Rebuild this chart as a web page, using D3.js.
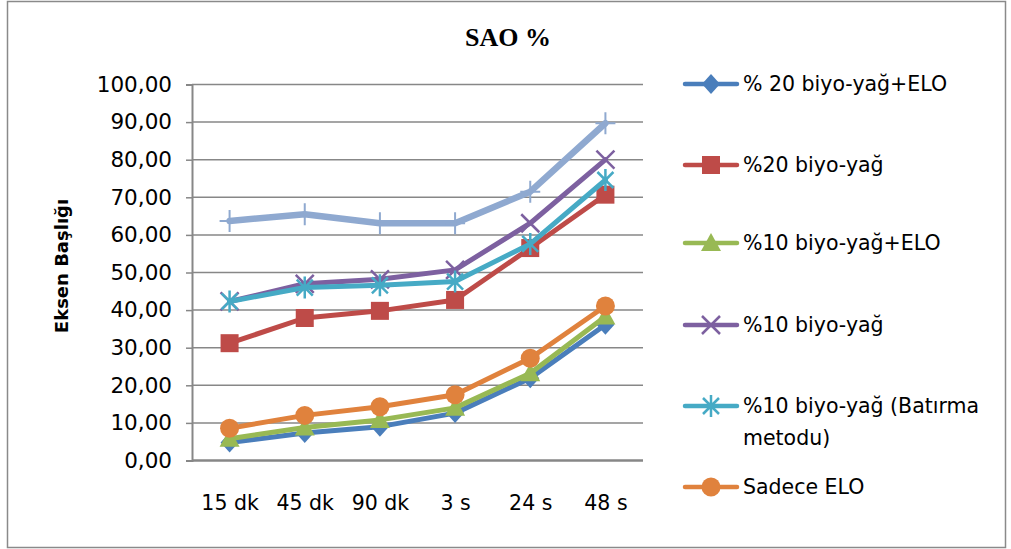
<!DOCTYPE html>
<html><head><meta charset="utf-8">
<script src="https://cdn.jsdelivr.net/npm/d3@7"></script>
<style>
body{margin:0;background:#fff}
svg{display:block}
text{font-family:"DejaVu Sans",Lato,sans-serif;fill:#000}
</style>
</head><body>
<svg id="c" width="1011" height="549"></svg>
<script>
// ---- data ----
const categories = ["15 dk", "45 dk", "90 dk", "3 s", "24 s", "48 s"];
const yTickValues = [0, 10, 20, 30, 40, 50, 60, 70, 80, 90, 100];
const seriesNames = ["% 20 biyo-yağ+ELO", "%20 biyo-yağ", "%10 biyo-yağ+ELO", "%10 biyo-yağ", "%10 biyo-yağ (Batırma metodu)", "Sadece ELO"];
const s20ELO    = [4.8, 7.3, 9.0, 12.6, 21.9, 36.1];
const s20       = [31.2, 37.9, 39.8, 42.7, 56.5, 70.7];
const s10ELO    = [5.8, 8.8, 10.8, 14.0, 23.2, 38.3];
const s10       = [42.3, 47.0, 48.2, 50.7, 63.1, 80.0];
const s10Bat    = [42.3, 46.0, 46.6, 47.6, 57.6, 74.6];
const sELO      = [8.6, 12.0, 14.3, 17.5, 27.2, 41.1];
const sExtra    = [63.7, 65.5, 63.1, 63.1, 71.5, 89.7]; // unlabeled series
const chartTitle = "SAO %";
const yTitle = "Eksen Başlığı";

const series = [
  {name: seriesNames[0], values: s20ELO, color: "#4A7EBB", marker: "diamond", w: 5},
  {name: seriesNames[1], values: s20,    color: "#BE4B48", marker: "square", w: 5},
  {name: seriesNames[2], values: s10ELO, color: "#98B954", marker: "triangle", w: 5},
  {name: seriesNames[3], values: s10,    color: "#7D60A0", marker: "x", w: 5},
  {name: seriesNames[4], values: s10Bat, color: "#46AAC5", marker: "star", w: 5},
  {name: seriesNames[5], values: sELO,   color: "#E0823D", marker: "circle", w: 5},
  {name: null,           values: sExtra, color: "#8FA9D0", marker: "plus", w: 6.5}
];

const svg = d3.select("#c");
const L = 192, R = 643, T = 84.5, B = 460.5;
const x = d3.scalePoint().domain(categories).range([L, R]).padding(0.5);
const y = d3.scaleLinear().domain([0, 100]).range([B, T]);

// outer frame
svg.append("rect").attr("x", 7.5).attr("y", 1.5).attr("width", 998).attr("height", 546)
  .attr("fill", "#fff").attr("stroke", "#8a8a8a").attr("stroke-width", 1.5);

// title
svg.append("text").attr("x", 508).attr("y", 46).attr("text-anchor", "middle")
  .style("font-family", "'Liberation Serif','DejaVu Serif',serif").style("font-weight", "bold")
  .style("font-size", "26px").text(chartTitle);

// gridlines
svg.append("g").selectAll("line").data(yTickValues.filter(v => v > 0)).join("line")
  .attr("x1", L).attr("x2", R).attr("y1", d => y(d)).attr("y2", d => y(d))
  .attr("stroke", "#878787").attr("stroke-width", 1.5);

// y axis
const yAxis = svg.append("g").attr("transform", `translate(${L},0)`)
  .call(d3.axisLeft(y).tickValues(yTickValues).tickSize(6).tickPadding(14)
    .tickFormat(d => d3.format(".2f")(d).replace(".", ",")));
yAxis.select(".domain").attr("stroke", "#878787").attr("stroke-width", 2);
yAxis.selectAll(".tick line").attr("stroke", "#878787").attr("stroke-width", 1.5);
yAxis.selectAll(".tick text").style("font-size", "21.5px").style("font-family", "'DejaVu Sans',sans-serif").attr("fill", "#000");

// x axis
const xAxis = svg.append("g").attr("transform", `translate(0,${B})`)
  .call(d3.axisBottom(x).tickSize(0).tickPadding(35));
xAxis.select(".domain").attr("stroke", "#878787").attr("stroke-width", 2.5)
  .attr("d", `M${L},0H${R}`);
xAxis.selectAll(".tick text").style("font-size", "20.5px").style("font-family", "'DejaVu Sans',sans-serif").attr("fill", "#000");

// y title
svg.append("text").attr("transform", "translate(61,266) rotate(-90)")
  .attr("text-anchor", "middle").attr("dominant-baseline", "central")
  .style("font-weight", "bold").style("font-size", "18px").text(yTitle);

function drawMarker(g, type, color, cx, cy) {
  const m = g.append("g").attr("transform", `translate(${cx},${cy})`);
  if (type === "diamond") m.append("path").attr("d", "M0,-10L9,0L0,10L-9,0Z").attr("fill", color);
  else if (type === "square") m.append("rect").attr("x", -9).attr("y", -9).attr("width", 18).attr("height", 18).attr("fill", color);
  else if (type === "triangle") m.append("path").attr("d", "M0,-10L10,8L-10,8Z").attr("fill", color);
  else if (type === "circle") m.append("circle").attr("r", 9.5).attr("fill", color);
  else if (type === "x") m.append("path").attr("d", "M-9,-9L9,9M-9,9L9,-9").attr("stroke", color).attr("stroke-width", 2.5).attr("fill", "none");
  else if (type === "star") m.append("path").attr("d", "M-8,-8L8,8M-8,8L8,-8M0,-11V11").attr("stroke", color).attr("stroke-width", 2.5).attr("fill", "none");
  else if (type === "plus") m.append("path").attr("d", "M-10,0H10M0,-11V11").attr("stroke", color).attr("stroke-width", 2).attr("fill", "none");
}

const line = d3.line().x((d, i) => x(categories[i])).y(d => y(d));
series.forEach(s => {
  const g = svg.append("g");
  g.append("path").datum(s.values).attr("d", line).attr("fill", "none")
    .attr("stroke", s.color).attr("stroke-width", s.w).attr("stroke-linejoin", "round").attr("stroke-linecap", "round");
  s.values.forEach((v, i) => drawMarker(g, s.marker, s.color, x(categories[i]), y(v)));
});

// legend
const legendY = [84, 165, 243, 325, 406, 487];
series.filter(s => s.name).forEach((s, i) => {
  const g = svg.append("g");
  const ly = legendY[i];
  g.append("line").attr("x1", 685).attr("x2", 737).attr("y1", ly).attr("y2", ly)
    .attr("stroke", s.color).attr("stroke-width", 4.5).attr("stroke-linecap", "round");
  drawMarker(g, s.marker, s.color, 711, ly);
  const t = g.append("text").attr("x", 743).attr("y", ly).attr("dominant-baseline", "central")
    .style("font-size", "20.5px");
  if (s.name.includes("(Batırma")) {
    t.append("tspan").attr("x", 743).attr("dy", 0).text("%10 biyo-yağ (Batırma");
    t.append("tspan").attr("x", 743).attr("dy", 32).text("metodu)");
  } else t.text(s.name);
});
</script>
</body></html>
